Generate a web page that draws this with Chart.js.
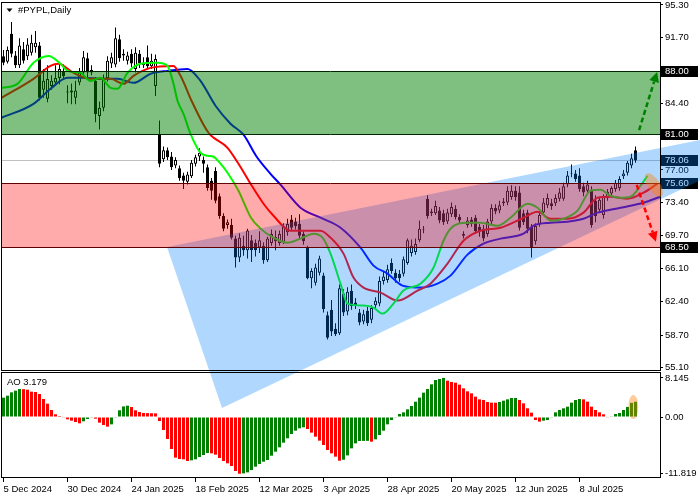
<!DOCTYPE html>
<html>
<head>
<meta charset="utf-8">
<script src="https://cdn.jsdelivr.net/npm/chart.js@4.4.1/dist/chart.umd.min.js"></script>
<style>
    html, body { margin: 0; padding: 0; background: #fff; }
    #wrap { width: 700px; height: 500px; }
</style>
</head>
<body>
<div id="wrap"><canvas id="myChart" width="700" height="500"></canvas></div>
<script>
// daily candles, index 0 = 5 Dec 2024
const opens = [
    89.6, 89.0, 92.1, 89.7, 88.6, 90.4, 89.6, 90.0, 90.6, 90.8,
    85.9, 84.9, 86.3, 86.7, 87.2, 88.0, 85.7, 85.6, 85.0, 86.7,
    87.8, 89.4, 87.8, 86.9, 83.0, 83.9, 87.2, 88.8, 88.7, 91.5,
    89.9, 89.1, 89.9, 88.2, 89.9, 88.6, 89.5, 88.5, 86.3, 81.0,
    78.2, 79.2, 78.5, 77.5, 77.2, 76.4, 75.7, 76.3, 77.7, 78.5,
    78.1, 77.3, 75.8, 76.9, 74.1, 71.9, 70.9, 70.9, 69.4, 67.3,
    68.6, 68.1, 69.2, 68.9, 68.4, 68.6, 67.0, 68.9, 69.6, 68.9,
    69.0, 70.1, 71.5, 71.3, 71.0, 69.9, 68.4, 65.0, 64.5, 65.6,
    65.3, 60.9, 61.5, 59.4, 58.9, 63.3, 61.3, 63.6, 62.3, 61.2,
    60.2, 61.4, 60.4, 62.0, 62.2, 64.7, 64.8, 66.7, 65.6, 65.5,
    65.5, 66.7, 67.8, 67.9, 69.2, 70.5, 73.8, 72.4, 72.2, 72.5,
    72.2, 71.3, 72.1, 72.7, 71.8, 69.9, 70.9, 71.5, 71.7, 70.7,
    70.5, 69.9, 71.3, 72.8, 72.5, 73.3, 73.4, 74.0, 74.7, 74.5,
    72.2, 72.3, 70.7, 69.1, 71.0, 72.3, 73.1, 73.3, 73.3, 73.8,
    73.8, 75.4, 76.7, 76.6, 76.4, 75.2, 74.7, 74.7, 73.6, 72.6,
    72.0, 73.9, 74.4, 74.9, 75.0, 76.3, 76.7, 77.5, 79.2
];
const highs = [
    90.3, 90.7, 93.4, 90.2, 91.6, 91.2, 91.6, 92.0, 92.4, 91.2,
    88.2, 88.6, 87.5, 88.6, 88.8, 88.7, 86.4, 86.6, 86.9, 88.3,
    90.2, 90.0, 88.6, 87.3, 84.6, 87.6, 89.6, 90.0, 92.8, 92.0,
    90.4, 90.1, 90.4, 90.6, 90.3, 89.5, 90.8, 89.9, 89.8, 82.5,
    79.6, 79.5, 79.0, 78.4, 77.5, 76.7, 76.8, 78.1, 78.7, 79.4,
    78.5, 77.6, 76.1, 77.3, 74.4, 72.2, 71.5, 71.6, 69.7, 70.0,
    69.7, 70.5, 69.8, 69.3, 70.2, 69.0, 69.6, 70.4, 70.3, 70.3,
    71.1, 71.6, 72.0, 71.7, 72.1, 70.2, 68.6, 66.1, 66.6, 67.5,
    65.6, 61.3, 62.6, 60.0, 64.3, 63.8, 64.0, 64.3, 62.8, 61.6,
    61.5, 61.8, 62.0, 62.9, 65.2, 65.8, 66.5, 67.2, 66.0, 65.9,
    67.4, 69.4, 69.3, 69.4, 71.4, 70.8, 74.2, 72.7, 73.6, 72.9,
    72.6, 72.7, 73.4, 73.1, 72.1, 70.2, 71.8, 71.8, 72.0, 71.0,
    70.9, 71.6, 73.2, 73.2, 73.6, 73.9, 75.2, 75.3, 75.2, 75.2,
    72.6, 72.6, 71.0, 71.1, 72.4, 73.9, 74.4, 73.8, 74.3, 75.0,
    75.6, 76.9, 77.6, 77.0, 77.2, 75.6, 75.8, 75.2, 74.2, 74.0,
    74.3, 74.9, 75.2, 75.9, 76.3, 77.0, 78.0, 78.8, 79.6
];
const lows = [
    88.6, 88.8, 89.5, 88.3, 88.3, 88.8, 89.2, 89.7, 90.0, 84.7,
    85.0, 84.5, 85.9, 86.4, 86.5, 87.0, 84.4, 84.3, 84.3, 86.4,
    87.3, 87.0, 87.5, 82.3, 81.5, 83.5, 86.8, 88.3, 88.4, 89.0,
    89.1, 88.7, 88.4, 87.8, 88.3, 88.3, 88.3, 88.2, 85.2, 77.3,
    77.9, 78.1, 77.0, 77.2, 75.8, 74.9, 75.4, 76.1, 77.4, 78.0,
    76.7, 74.7, 73.7, 73.3, 71.6, 70.2, 70.5, 69.3, 66.2, 66.8,
    67.5, 67.2, 66.8, 67.4, 67.8, 66.6, 66.8, 68.6, 68.1, 68.6,
    68.8, 69.7, 70.3, 70.4, 69.4, 68.7, 64.9, 63.9, 64.2, 65.3,
    61.2, 58.2, 58.6, 58.6, 58.7, 60.8, 60.9, 61.5, 61.6, 59.8,
    59.9, 59.7, 60.0, 61.6, 61.9, 64.3, 64.5, 65.5, 64.5, 64.6,
    65.2, 66.5, 67.4, 67.6, 69.0, 70.0, 71.6, 71.9, 72.0, 71.1,
    70.9, 71.0, 71.8, 71.5, 71.0, 69.4, 70.6, 70.7, 69.9, 69.6,
    69.1, 69.6, 71.0, 72.1, 72.2, 73.0, 73.1, 73.7, 73.6, 70.3,
    70.9, 70.0, 67.3, 68.7, 70.7, 72.0, 72.8, 72.6, 73.0, 73.5,
    73.6, 75.1, 76.2, 75.7, 74.6, 74.1, 74.3, 70.6, 71.2, 72.3,
    71.6, 73.6, 74.0, 74.6, 74.7, 76.0, 76.4, 77.2, 77.8
];
const closes = [
    88.9, 90.3, 89.9, 88.6, 90.8, 89.1, 90.9, 91.1, 91.1, 85.0,
    86.9, 87.1, 86.9, 87.2, 88.2, 87.4, 85.6, 85.8, 85.8, 87.8,
    89.5, 87.8, 88.1, 83.2, 83.9, 87.1, 89.1, 89.5, 91.6, 89.4,
    89.7, 89.7, 88.8, 90.0, 88.8, 88.9, 88.5, 89.1, 89.3, 77.7,
    79.2, 78.4, 77.3, 78.1, 76.1, 75.8, 76.5, 77.8, 78.4, 78.9,
    77.7, 75.0, 74.7, 73.6, 71.9, 70.5, 71.2, 69.5, 67.3, 69.5,
    68.1, 70.3, 68.1, 68.1, 69.2, 67.0, 69.4, 69.9, 69.1, 69.9,
    70.7, 71.0, 70.6, 70.8, 69.7, 69.1, 65.0, 65.8, 66.2, 67.2,
    61.6, 58.4, 59.1, 58.8, 63.9, 61.2, 63.5, 61.9, 62.0, 60.1,
    61.0, 60.0, 61.7, 62.5, 64.7, 65.2, 66.0, 65.8, 65.0, 65.0,
    67.1, 69.2, 68.6, 68.8, 70.5, 70.4, 71.9, 72.2, 73.0, 71.4,
    71.2, 72.3, 72.9, 71.8, 71.4, 69.7, 71.4, 71.0, 70.2, 70.2,
    69.4, 71.3, 72.8, 72.4, 73.1, 73.5, 74.7, 74.7, 74.0, 70.6,
    71.2, 70.5, 68.4, 70.8, 72.0, 73.4, 73.9, 73.0, 73.9, 74.5,
    75.2, 76.4, 76.6, 76.0, 74.9, 74.5, 75.4, 70.9, 71.9, 73.7,
    74.0, 74.6, 75.0, 75.6, 76.0, 76.6, 77.8, 78.3, 78.06
];

// Awesome Oscillator, one value per bar
const aoValues = [
    4.03, 4.44, 5.14, 5.49, 5.83, 5.80, 5.69, 5.28, 5.21, 4.79,
    3.75, 2.78, 1.46, 0.56, 0.21, -0.07, -0.49, -0.76, -1.04, -1.32,
    -0.90, -0.42, -0.07, -0.35, -1.18, -1.67, -2.01, -1.53, -0.14, 1.40,
    2.20, 2.36, 2.07, 1.39, 1.04, 0.83, 0.80, 0.78, 0.76, -0.83,
    -2.71, -4.58, -6.67, -8.47, -8.75, -8.82, -9.17, -9.03, -8.82, -8.33,
    -7.92, -7.50, -7.57, -7.85, -8.54, -9.17, -9.65, -10.21, -11.25, -11.819,
    -11.75, -11.53, -11.04, -10.35, -9.79, -9.31, -8.96, -8.06, -7.22, -6.32,
    -5.35, -4.44, -3.54, -2.85, -2.36, -2.15, -2.50, -3.26, -4.10, -4.93,
    -5.83, -6.88, -7.57, -8.26, -9.10, -8.90, -8.00, -6.53, -5.49, -5.00,
    -4.98, -4.97, -5.14, -4.65, -3.75, -2.85, -1.53, -0.63, -0.07, 0.63,
    0.97, 1.60, 2.29, 3.19, 4.03, 5.07, 5.83, 6.81, 7.71, 7.92,
    8.145, 7.57, 7.29, 7.15, 6.74, 5.97, 5.35, 4.93, 4.24, 3.68,
    3.54, 3.13, 2.99, 2.98, 3.13, 3.40, 3.68, 3.96, 3.97, 3.54,
    2.85, 1.81, 0.90, -0.63, -0.97, -0.76, -0.63, -0.07, 0.97, 1.46,
    1.81, 2.15, 2.99, 3.54, 3.75, 3.68, 3.19, 2.15, 1.46, 0.97,
    0.56, -0.07, 0.14, 0.63, 0.83, 1.46, 2.10, 2.95, 3.179
];

// alligator lines: [bar index, price]
const lips = [
    [-0.5, 86.1], [3.5, 86.55], [7.5, 88.88], [11.25, 89.65], [14.25, 88.77], [16, 87.99],
    [19.25, 87.77], [21.75, 86.88], [24.25, 87.22], [26.75, 86.11], [28.5, 86.0], [31, 87.77],
    [34.25, 88.77], [38.5, 88.88], [41, 88.54], [42.5, 86.55], [43.5, 84.67], [45, 83.23],
    [46.75, 81.01], [49.25, 78.91], [51, 78.58], [52.5, 78.47], [54.25, 77.7], [56, 76.7],
    [58.75, 74.7], [61.75, 71.8], [64.25, 70.5], [67.5, 69.5], [71, 68.94], [74.25, 69.39],
    [77.5, 69.94], [79.75, 69.5], [81.75, 67.73], [84.25, 64.4], [86, 62.19], [90, 61.97],
    [92.5, 61.75], [94.75, 61.08], [97.5, 62.19], [100, 63.63], [104.25, 64.4], [107.5, 66.17],
    [110, 69.16], [111.75, 70.49], [116, 71.16], [119.25, 71.16], [123.5, 70.83], [126.75, 71.71],
    [131, 73.26], [133.5, 72.82], [136.75, 71.38], [140, 71.6], [143.5, 72.49], [146.75, 74.7],
    [149.25, 74.81], [151.75, 74.15], [154.25, 73.93], [156.75, 74.04], [159.25, 75.26], [161, 76.36]
];
const teeth = [
    [-0.5, 85.0], [7.5, 87.11], [11.75, 88.54], [13.75, 88.77], [17.5, 87.77], [21.75, 87.11],
    [26.75, 87.11], [30, 86.55], [32.5, 87.44], [36.75, 88.32], [42.5, 88.54], [44.25, 87.44],
    [47.25, 84.45], [51.25, 81.13], [56, 79.46], [58.75, 77.69], [61.75, 75.48], [65, 73.26],
    [67.5, 71.93], [71.75, 70.27], [79.25, 70.27], [81.75, 69.5], [85, 67.73], [87.5, 65.07],
    [90, 63.96], [94.25, 63.41], [98.5, 62.52], [103.5, 63.63], [106.75, 64.4], [111, 66.62],
    [115, 69.16], [119.25, 70.27], [124.25, 70.6], [130, 71.71], [133.5, 72.38], [136.75, 71.6],
    [141, 71.6], [145, 72.27], [148.5, 73.93], [151.75, 74.04], [156, 73.82], [160, 74.48],
    [163.5, 75.48]
];
const jaw = [
    [-0.5, 82.79], [7.5, 84.34], [11.75, 86.0], [16, 87.22], [20, 87.22], [24.25, 87.11],
    [28.5, 87.11], [32.5, 86.66], [36.75, 87.66], [41, 87.99], [46, 88.21], [49.25, 86.88],
    [53, 84.12], [56.75, 82.13], [60, 80.91], [63.25, 78.5], [66.75, 76.58], [69.25, 75.37],
    [74.25, 72.82], [79.25, 71.71], [84.25, 70.6], [89.25, 68.39], [92.5, 66.4], [96, 65.51],
    [99.75, 64.18], [104.25, 63.96], [108.5, 64.4], [111.75, 65.29], [116, 67.62], [120, 68.83],
    [124.25, 69.39], [130, 69.94], [132.5, 70.83], [136.75, 71.16], [141, 71.27], [145, 71.6],
    [148.5, 72.27], [154.25, 72.82], [160, 73.37], [164.25, 74.04]
];

// axes
const dateTicks = [0, 16, 32, 48, 64, 80, 96, 112, 128, 144];
const dateLabels = ['5 Dec 2024', '30 Dec 2024', '24 Jan 2025', '18 Feb 2025', '12 Mar 2025',
    '3 Apr 2025', '28 Apr 2025', '20 May 2025', '12 Jun 2025', '8 Jul 2025'];
const priceTicks = [95.3, 91.7, 88.0, 84.4, 80.7, 77.0, 73.4, 69.7, 66.1, 62.4, 58.7, 55.1];
const aoTicks = [8.145, 0, -11.819];
const aoTickLabels = ['8.145', '0.00', '-11.819'];

// levels and drawings
const buyZone = [81.00, 88.00];
const sellZone = [68.50, 75.60];
const lastPrice = 78.06;
const priceMarks = [88.00, 81.00, 78.06, 75.60, 68.50];
const wedge = [[40.875, 68.46], [54.625, 50.61], [210.9, 83.61]];
const upArrow = [[158.9, 81.43], [163.4, 87.86]];
const downArrow = [[158.3, 75.34], [163.1, 69.05]];

const FONT = "'Liberation Sans', Arial, sans-serif";
Chart.defaults.font.family = FONT;
Chart.defaults.font.size = 9.5;
Chart.defaults.color = '#000';

const bodies = opens.map((o, i) => ({ x: i, y: [o, closes[i]] }));
const wicks = lows.map((l, i) => ({ x: i, y: [l, highs[i]] }));
const aoBars = aoValues.map((v, i) => ({ x: i, y: v }));
const aoColors = aoValues.map((v, i) => (i === 0 || v > aoValues[i - 1]) ? '#008000' : '#ff0000');

// no extra room around the plot for edge labels
const noPad = s => {
    s.paddingLeft = 0;
    s.paddingRight = 0;
    s.paddingTop = 0;
    s.paddingBottom = 0;
};

function arrow(ctx, x0, y0, x1, y1, color) {
    const ang = Math.atan2(y1 - y0, x1 - x0);
    const head = 10, half = 5;
    const bx = x1 - head * Math.cos(ang), by = y1 - head * Math.sin(ang);
    ctx.save();
    ctx.strokeStyle = color;
    ctx.fillStyle = color;
    ctx.lineWidth = 2.5;
    ctx.setLineDash([5, 3]);
    ctx.beginPath();
    ctx.moveTo(x0, y0);
    ctx.lineTo(bx, by);
    ctx.stroke();
    ctx.setLineDash([]);
    ctx.beginPath();
    ctx.moveTo(x1, y1);
    ctx.lineTo(bx + half * Math.sin(ang), by - half * Math.cos(ang));
    ctx.lineTo(bx - half * Math.sin(ang), by + half * Math.cos(ang));
    ctx.closePath();
    ctx.fill();
    ctx.restore();
}

const overlay = {
    id: 'overlay',
    beforeDatasetsDraw(chart) {
        const { ctx, chartArea: a, scales: { y } } = chart;
        const py = Math.round(y.getPixelForValue(lastPrice)) + 0.5;
        ctx.save();
        ctx.strokeStyle = '#c0c0c0';
        ctx.lineWidth = 1;
        ctx.beginPath();
        ctx.moveTo(a.left, py);
        ctx.lineTo(a.right, py);
        ctx.stroke();
        ctx.restore();
    },
    afterDatasetsDraw(chart) {
        const { ctx, chartArea: a, scales: { x, y, ao } } = chart;
        ctx.save();

        // price markers on the axis
        ctx.font = '9.5px ' + FONT;
        ctx.textBaseline = 'middle';
        ctx.textAlign = 'left';
        priceMarks.forEach(v => {
            const py = Math.round(y.getPixelForValue(v));
            ctx.fillStyle = '#000';
            ctx.fillRect(a.right + 1, py - 5, 37, 11);
            ctx.fillStyle = '#fff';
            ctx.fillText(v.toFixed(2), a.right + 5, py + 0.5);
        });

        // wedge
        ctx.fillStyle = 'rgba(0,128,255,0.31)';
        ctx.beginPath();
        wedge.forEach((p, k) => {
            const px = x.getPixelForValue(p[0]), py = y.getPixelForValue(p[1]);
            if (k === 0) ctx.moveTo(px, py); else ctx.lineTo(px, py);
        });
        ctx.closePath();
        ctx.fill();

        // zones
        const zone = (z, fill, line) => {
            const top = Math.round(y.getPixelForValue(z[1])) + 0.5;
            const bot = Math.round(y.getPixelForValue(z[0])) + 0.5;
            ctx.fillStyle = fill;
            ctx.fillRect(a.left, top, a.right - a.left, bot - top);
            ctx.strokeStyle = line;
            ctx.lineWidth = 1;
            ctx.beginPath();
            ctx.moveTo(a.left, top); ctx.lineTo(a.right, top);
            ctx.moveTo(a.left, bot); ctx.lineTo(a.right, bot);
            ctx.stroke();
        };
        zone(sellZone, 'rgba(255,0,0,0.33)', '#600000');
        zone(buyZone, 'rgba(0,128,0,0.5)', '#002800');

        // panel frames
        ctx.strokeStyle = '#000';
        ctx.lineWidth = 1;
        ctx.strokeRect(a.left + 0.5, y.top + 0.5, a.right - a.left, y.bottom - y.top - 2);
        ctx.strokeRect(a.left + 0.5, ao.top + 0.5, a.right - a.left, ao.bottom - ao.top - 1);

        // arrows
        arrow(ctx, x.getPixelForValue(upArrow[0][0]), y.getPixelForValue(upArrow[0][1]),
            x.getPixelForValue(upArrow[1][0]), y.getPixelForValue(upArrow[1][1]), '#008000');
        arrow(ctx, x.getPixelForValue(downArrow[0][0]), y.getPixelForValue(downArrow[0][1]),
            x.getPixelForValue(downArrow[1][0]), y.getPixelForValue(downArrow[1][1]), '#ff0000');

        // highlight ellipses
        ctx.fillStyle = 'rgba(255,128,0,0.4)';
        ctx.beginPath();
        ctx.ellipse(x.getPixelForValue(162.6), y.getPixelForValue(75.34), 13.5, 6, 56 * Math.PI / 180, 0, Math.PI * 2);
        ctx.fill();
        ctx.beginPath();
        ctx.ellipse(x.getPixelForValue(157.45), ao.getPixelForValue(2.08), 5, 12, 0, 0, Math.PI * 2);
        ctx.fill();

        // titles
        ctx.fillStyle = '#000';
        ctx.beginPath();
        ctx.moveTo(6.5, 8.5); ctx.lineTo(12.5, 8.5); ctx.lineTo(9.5, 12);
        ctx.closePath();
        ctx.fill();
        ctx.textBaseline = 'middle';
        ctx.fillText('#PYPL,Daily', 18, 10.5);
        ctx.fillText('AO 3.179', 7, ao.top + 10);
        ctx.restore();
    }
};

const config = {
    type: 'bar',
    data: {
        datasets: [
            {
                type: 'line', label: 'Lips', data: lips.map(p => ({ x: p[0], y: p[1] })),
                borderColor: '#00ff00', borderWidth: 2, pointRadius: 0,
                cubicInterpolationMode: 'monotone', yAxisID: 'y', order: 0
            },
            {
                type: 'line', label: 'Teeth', data: teeth.map(p => ({ x: p[0], y: p[1] })),
                borderColor: '#ff0000', borderWidth: 2, pointRadius: 0,
                cubicInterpolationMode: 'monotone', yAxisID: 'y', order: 1
            },
            {
                type: 'line', label: 'Jaw', data: jaw.map(p => ({ x: p[0], y: p[1] })),
                borderColor: '#0000ff', borderWidth: 2, pointRadius: 0,
                cubicInterpolationMode: 'monotone', yAxisID: 'y', order: 2
            },
            {
                label: 'Body', data: bodies,
                backgroundColor: opens.map((o, i) => closes[i] >= o ? '#ffffff' : '#000000'),
                borderColor: '#000', borderWidth: 1, borderSkipped: false,
                barThickness: 3, grouped: false, inflateAmount: 0, yAxisID: 'y', order: 3
            },
            {
                label: 'Wick', data: wicks, backgroundColor: '#000',
                barThickness: 1, grouped: false, inflateAmount: 0, yAxisID: 'y', order: 4
            },
            {
                label: 'AO', data: aoBars, backgroundColor: aoColors,
                barThickness: 3, grouped: false, inflateAmount: 0, yAxisID: 'ao', order: 5
            }
        ]
    },
    options: {
        responsive: false,
        animation: false,
        layout: { padding: { left: 1, top: 2, right: 0, bottom: 0 } },
        plugins: {
            legend: { display: false },
            tooltip: { enabled: false }
        },
        scales: {
            x: {
                type: 'linear',
                min: -0.625,
                max: 164.125,
                offset: false,
                afterBuildTicks: s => { s.ticks = dateTicks.map(v => ({ value: v })); },
                afterFit: s => { s.height = 22; noPad(s); },
                ticks: {
                    callback: v => dateLabels[dateTicks.indexOf(v)],
                    align: 'start', maxRotation: 0, autoSkip: false, padding: 2
                },
                grid: { drawOnChartArea: false, offset: false, tickLength: 4, color: '#000' },
                border: { display: false }
            },
            y: {
                position: 'right',
                stack: 'panes',
                stackWeight: 370,
                min: 54.605,
                max: 95.625,
                afterBuildTicks: s => { s.ticks = priceTicks.map(v => ({ value: v })); },
                afterFit: s => { s.width = 40; noPad(s); },
                ticks: { callback: v => v.toFixed(2), autoSkip: false, padding: 2 },
                grid: { drawOnChartArea: false, tickLength: 3, color: '#000' },
                border: { display: false }
            },
            ao: {
                position: 'right',
                stack: 'panes',
                stackWeight: 106,
                min: -12.708,
                max: 9.375,
                afterBuildTicks: s => { s.ticks = aoTicks.map(v => ({ value: v })); },
                afterFit: s => { s.width = 40; noPad(s); },
                ticks: { callback: v => aoTickLabels[aoTicks.indexOf(v)], autoSkip: false, padding: 2 },
                grid: { drawOnChartArea: false, tickLength: 3, color: '#000' },
                border: { display: false }
            }
        }
    },
    plugins: [overlay]
};

const myChart = new Chart(document.getElementById('myChart'), config);
</script>
</body>
</html>
